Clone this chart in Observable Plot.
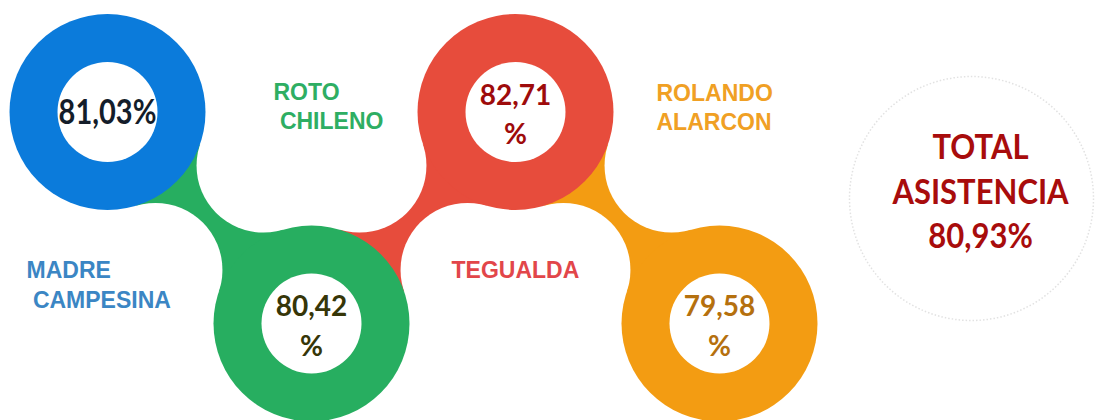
<!DOCTYPE html>
<html><head><meta charset="utf-8">
<script src="https://cdn.jsdelivr.net/npm/d3@7"></script>
<script src="https://cdn.jsdelivr.net/npm/@observablehq/plot@0.6"></script>
<style>html,body{margin:0;padding:0;background:#fff;overflow:hidden}</style>
</head><body><div id="chart"></div>
<script>
// ---- data ----
const schools = ["MADRE CAMPESINA", "ROTO CHILENO", "TEGUALDA", "ROLANDO ALARCON"];
const schoolLabels = ["MADRE\n\u00a0CAMPESINA", "ROTO\n\u00a0CHILENO", "TEGUALDA", "ROLANDO\nALARCON"];
const attendance = [81.03, 80.42, 82.71, 79.58];
const totalTitle = "TOTAL\nASISTENCIA";
const totalAttendance = 80.93;

// ---- styles ----
const ringColors = ["#0b7bdb", "#27ae60", "#e74c3c", "#f39c12"];
const valueColors = ["#141d2a", "#363608", "#9e0b0b", "#b5700e"];
const labelColors = ["#3b86c4", "#2eae63", "#e2464a", "#f0a024"];
const wrapPercent = [false, true, true, true];
const totalColor = "#a80c0c";

// ---- layout (pixels) ----
const W = 1095, H = 420;
const X0 = 107, DX = 204, Y0 = 111.5, DY = 211.5;
const R = 98, RIN = 50, RB = 67;
const labelDx = [-81, -38, -64, -63];
const labelDy = [-66, -33, -66, -32];
const totalCol = (971 - X0) / DX, totalRow = (198 - Y0) / DY;

const px = c => X0 + DX * c, py = r => Y0 + DY * r;
const ix = p => (p - X0) / DX, iy = p => (p - Y0) / DY;

const fmt = v => v.toFixed(2).replace(".", ",");
const nodes = schools.map((s, i) => ({
  school: s, value: attendance[i], col: i, row: i % 2,
  text: fmt(attendance[i]) + (wrapPercent[i] ? "\n%" : "%"),
  label: schoolLabels[i]
}));

// metaball-like connectors between consecutive rings
const necks = [], bites = [];
for (let i = 0; i < nodes.length - 1; i++) {
  const a = {x: px(nodes[i].col), y: py(nodes[i].row)};
  const b = {x: px(nodes[i + 1].col), y: py(nodes[i + 1].row)};
  const dx = b.x - a.x, dy = b.y - a.y, d = Math.hypot(dx, dy);
  const ux = dx / d, uy = dy / d, nx = -uy, ny = ux;
  const mx = (a.x + b.x) / 2, my = (a.y + b.y) / 2;
  const h = Math.sqrt((R + RB) ** 2 - (d / 2) ** 2);
  const bs = [[mx + nx * h, my + ny * h], [mx - nx * h, my - ny * h]];
  bs.forEach(p => bites.push({x: ix(p[0]), y: iy(p[1])}));
  const t = (c, p) => ({x: ix(c.x + (p[0] - c.x) * R / (R + RB)), y: iy(c.y + (p[1] - c.y) * R / (R + RB))});
  necks.push({color: ringColors[i + 1], pts: [t(a, bs[0]), t(b, bs[0]), t(b, bs[1]), t(a, bs[1])]});
}

const plot = Plot.plot({
  width: W, height: H, margin: 0,
  x: {domain: [ix(0), ix(W)], range: [0, W], axis: null},
  y: {domain: [iy(0), iy(H)], range: [0, H], axis: null},
  color: {type: "identity"},
  style: {background: "#ffffff", overflow: "visible"},
  marks: [
    ...necks.map(n => Plot.line(n.pts, {x: "x", y: "y", curve: "linear-closed", fill: n.color, stroke: "none"})),
    Plot.dot(bites, {x: "x", y: "y", r: RB, fill: "#ffffff", stroke: "none"}),
    Plot.dot([totalAttendance], {x: () => totalCol, y: () => totalRow, r: 122, fill: "#ffffff",
      stroke: "#e2e2e2", strokeWidth: 1.5, strokeDasharray: "1.5 2"}),
    Plot.dot(nodes, {x: "col", y: "row", r: R, fill: (d, i) => ringColors[i], stroke: "none"}),
    Plot.dot(nodes, {x: "col", y: "row", r: RIN, fill: "#ffffff", stroke: "none"}),
    Plot.text(nodes.filter(d => !wrapPercent[d.col]), {x: "col", y: "row", text: "text",
      fill: d => valueColors[d.col], fontFamily: "Lato", fontWeight: "bold", fontSize: 29,
      className: "stretch-value"}),
    Plot.text(nodes.filter(d => wrapPercent[d.col]), {x: "col", y: "row", text: "text",
      fill: d => valueColors[d.col], fontFamily: "Lato", fontWeight: "bold", fontSize: 28, lineHeight: 1.4}),
    Plot.text(nodes, {x: d => d.col + labelDx[d.col] / DX, y: d => (1 - d.row) + labelDy[d.col] / DY,
      text: "label", textAnchor: "start", lineAnchor: "top", lineHeight: 1.28,
      fill: d => labelColors[d.col], fontFamily: "Liberation Sans", fontWeight: "bold", fontSize: 23}),
    Plot.text([totalAttendance], {x: () => totalCol + 9 / DX, y: () => totalRow - 9 / DY,
      text: v => totalTitle + "\n" + fmt(v) + "%", lineHeight: 1.27,
      fill: totalColor, fontFamily: "Lato", fontWeight: "bold", fontSize: 31,
      className: "stretch-total"})
  ]
});
document.getElementById("chart").appendChild(plot);

// stretch some texts vertically (the original uses a taller, narrower face)
function stretch(sel, k) {
  plot.querySelectorAll(sel + " text").forEach(t => {
    const b = t.getBBox();
    const cy = b.y + b.height / 2;
    const tr = t.getAttribute("transform") || "";
    t.setAttribute("transform", `${tr} translate(0,${cy * (1 - k)}) scale(1,${k})`);
  });
}
stretch(".stretch-value", 1.2);
stretch(".stretch-total", 1.12);
</script>
</body></html>
